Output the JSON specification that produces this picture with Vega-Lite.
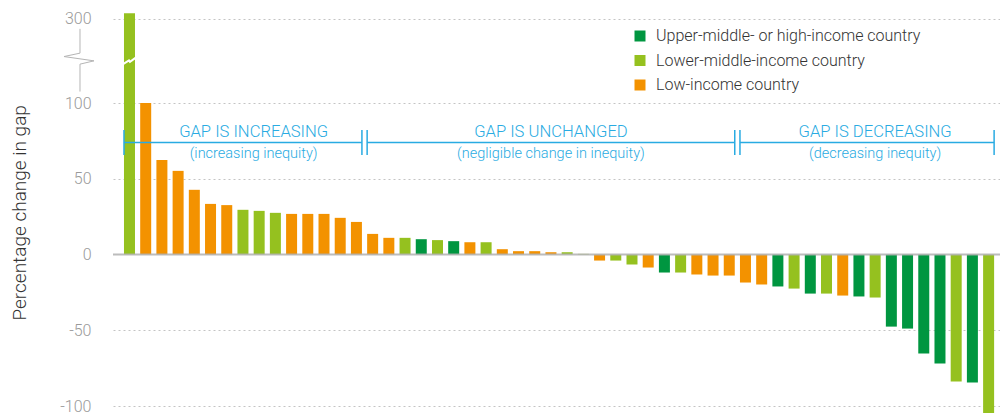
{
  "$schema": "https://vega.github.io/schema/vega-lite/v6.json",
  "width": 887,
  "height": 400,
  "autosize": "none",
  "padding": {"left": 113, "top": 13, "right": 0, "bottom": 0},
  "config": {"view": {"stroke": null}, "font": "Roboto"},
  "datasets": {
    "bars": [
      {"rank": 1, "value": 313, "income": "Lower-middle-income country"},
      {"rank": 2, "value": 100, "income": "Low-income country"},
      {"rank": 3, "value": 62.3, "income": "Low-income country"},
      {"rank": 4, "value": 55.2, "income": "Low-income country"},
      {"rank": 5, "value": 42.7, "income": "Low-income country"},
      {"rank": 6, "value": 33.4, "income": "Low-income country"},
      {"rank": 7, "value": 32.6, "income": "Low-income country"},
      {"rank": 8, "value": 29.5, "income": "Lower-middle-income country"},
      {"rank": 9, "value": 28.8, "income": "Lower-middle-income country"},
      {"rank": 10, "value": 27.5, "income": "Lower-middle-income country"},
      {"rank": 11, "value": 26.8, "income": "Low-income country"},
      {"rank": 12, "value": 26.8, "income": "Low-income country"},
      {"rank": 13, "value": 26.8, "income": "Low-income country"},
      {"rank": 14, "value": 24.2, "income": "Low-income country"},
      {"rank": 15, "value": 21.5, "income": "Low-income country"},
      {"rank": 16, "value": 13.6, "income": "Low-income country"},
      {"rank": 17, "value": 11.0, "income": "Low-income country"},
      {"rank": 18, "value": 11.0, "income": "Lower-middle-income country"},
      {"rank": 19, "value": 10.1, "income": "Upper-middle- or high-income country"},
      {"rank": 20, "value": 9.5, "income": "Lower-middle-income country"},
      {"rank": 21, "value": 8.8, "income": "Upper-middle- or high-income country"},
      {"rank": 22, "value": 8.1, "income": "Low-income country"},
      {"rank": 23, "value": 8.1, "income": "Lower-middle-income country"},
      {"rank": 24, "value": 3.5, "income": "Low-income country"},
      {"rank": 25, "value": 2.2, "income": "Low-income country"},
      {"rank": 26, "value": 2.2, "income": "Low-income country"},
      {"rank": 27, "value": 1.5, "income": "Low-income country"},
      {"rank": 28, "value": 1.5, "income": "Lower-middle-income country"},
      {"rank": 29, "value": 0.4, "income": "Lower-middle-income country"},
      {"rank": 30, "value": -4.0, "income": "Low-income country"},
      {"rank": 31, "value": -4.0, "income": "Lower-middle-income country"},
      {"rank": 32, "value": -6.6, "income": "Lower-middle-income country"},
      {"rank": 33, "value": -8.6, "income": "Low-income country"},
      {"rank": 34, "value": -11.9, "income": "Upper-middle- or high-income country"},
      {"rank": 35, "value": -11.9, "income": "Lower-middle-income country"},
      {"rank": 36, "value": -13.2, "income": "Low-income country"},
      {"rank": 37, "value": -13.9, "income": "Low-income country"},
      {"rank": 38, "value": -13.9, "income": "Low-income country"},
      {"rank": 39, "value": -18.5, "income": "Low-income country"},
      {"rank": 40, "value": -19.8, "income": "Low-income country"},
      {"rank": 41, "value": -21.1, "income": "Upper-middle- or high-income country"},
      {"rank": 42, "value": -22.5, "income": "Lower-middle-income country"},
      {"rank": 43, "value": -25.8, "income": "Upper-middle- or high-income country"},
      {"rank": 44, "value": -25.8, "income": "Lower-middle-income country"},
      {"rank": 45, "value": -27.1, "income": "Low-income country"},
      {"rank": 46, "value": -27.7, "income": "Upper-middle- or high-income country"},
      {"rank": 47, "value": -28.4, "income": "Lower-middle-income country"},
      {"rank": 48, "value": -47.6, "income": "Upper-middle- or high-income country"},
      {"rank": 49, "value": -48.9, "income": "Upper-middle- or high-income country"},
      {"rank": 50, "value": -65.4, "income": "Upper-middle- or high-income country"},
      {"rank": 51, "value": -72.0, "income": "Upper-middle- or high-income country"},
      {"rank": 52, "value": -83.9, "income": "Lower-middle-income country"},
      {"rank": 53, "value": -84.5, "income": "Upper-middle- or high-income country"},
      {"rank": 54, "value": -105, "income": "Lower-middle-income country"}
    ],
    "zero": [{"value": 0}],
    "breaks": [{"rank": 1, "value": 200}],
    "brackets": [
      {"from": 1, "to": 15, "title": "GAP IS INCREASING", "note": "(increasing inequity)", "at": 9},
      {"from": 16, "to": 38, "title": "GAP IS UNCHANGED", "note": "(negligible change in inequity)", "at": 27},
      {"from": 39, "to": 54, "title": "GAP IS DECREASING", "note": "(decreasing inequity)", "at": 47}
    ]
  },
  "layer": [
    {
      "data": {"name": "bars"},
      "mark": {"type": "bar"},
      "encoding": {
        "x": {
          "field": "rank", "type": "ordinal",
          "scale": {
            "domain": [1,2,3,4,5,6,7,8,9,10,11,12,13,14,15,16,17,18,19,20,21,22,23,24,25,26,27,28,29,30,31,32,33,34,35,36,37,38,39,40,41,42,43,44,45,46,47,48,49,50,51,52,53,54],
            "paddingInner": 0.3214, "paddingOuter": 0.5205, "align": 0.651, "round": false
          },
          "axis": null
        },
        "y": {
          "field": "value", "type": "quantitative",
          "scale": {"domain": [-100, 100, 300], "range": [393, 90, 5.7], "nice": false, "zero": false},
          "axis": {
            "values": [-100, -50, 0, 50, 100, 300],
            "labelExpr": "'' + datum.value",
            "title": "Percentage change in gap",
            "ticks": false, "domain": false,
            "labelPadding": 22, "labelFontSize": 16, "labelColor": "#9a9a9a", "labelFontWeight": 300,
            "titleFontSize": 19, "titleColor": "#333333", "titleFontWeight": 300, "titlePadding": 30,
            "gridDash": [2, 3], "gridColor": "#c4c4c4",
            "gridOpacity": {"condition": {"test": "datum.value === 0", "value": 0}, "value": 1}
          }
        },
        "color": {
          "field": "income", "type": "nominal",
          "scale": {
            "domain": ["Upper-middle- or high-income country", "Lower-middle-income country", "Low-income country"],
            "range": ["#009640", "#95C11F", "#F39200"]
          },
          "legend": {
            "title": null, "orient": "none", "legendX": 519, "legendY": 15,
            "symbolType": "square", "symbolSize": 121, "symbolOpacity": 1, "symbolStrokeWidth": 0,
            "labelFontSize": 16, "labelColor": "#333333", "labelOffset": 8, "rowPadding": 8.5,
            "labelFontWeight": 300, "labelLimit": 500
          }
        }
      }
    },
    {
      "data": {"name": "zero"},
      "mark": {"type": "rule", "color": "#b0b0b0", "strokeWidth": 2, "opacity": 0.85},
      "encoding": {"y": {"field": "value", "type": "quantitative"}}
    },
    {
      "data": {"name": "breaks"},
      "mark": {"type": "point", "shape": "M-6,3L-0.5,-0.5L0.5,1L6,-3", "size": 4, "filled": false, "stroke": "white", "strokeWidth": 2, "opacity": 1},
      "encoding": {
        "x": {"field": "rank", "type": "ordinal"},
        "y": {"field": "value", "type": "quantitative"}
      }
    },
    {
      "data": {"name": "breaks"},
      "mark": {"type": "point", "shape": "M-49.5,-32L-49.5,-7.7L-65.5,-4.3L-35.5,0L-49.5,3.3L-49.5,30.7", "size": 4, "filled": false, "stroke": "#b5b5b5", "strokeWidth": 1, "opacity": 1},
      "encoding": {
        "x": {"field": "rank", "type": "ordinal"},
        "y": {"field": "value", "type": "quantitative"}
      }
    },
    {
      "data": {"name": "brackets"},
      "mark": {"type": "rule", "color": "#29ABE2", "strokeWidth": 1.5},
      "encoding": {
        "x": {"field": "from", "type": "ordinal", "bandPosition": 0},
        "x2": {"field": "to", "bandPosition": 1},
        "y": {"datum": 74, "type": "quantitative"}
      }
    },
    {
      "data": {"name": "brackets"},
      "mark": {"type": "rule", "color": "#29ABE2", "strokeWidth": 1.5},
      "encoding": {
        "x": {"field": "from", "type": "ordinal", "bandPosition": 0},
        "y": {"datum": 65.6, "type": "quantitative"},
        "y2": {"datum": 82.1}
      }
    },
    {
      "data": {"name": "brackets"},
      "mark": {"type": "rule", "color": "#29ABE2", "strokeWidth": 1.5},
      "encoding": {
        "x": {"field": "to", "type": "ordinal", "bandPosition": 1},
        "y": {"datum": 65.6, "type": "quantitative"},
        "y2": {"datum": 82.1}
      }
    },
    {
      "data": {"name": "brackets"},
      "transform": [{"filter": "datum.from === 1"}],
      "mark": {"type": "text", "color": "#29ABE2", "fontSize": 16.6, "fontWeight": 300, "baseline": "middle", "align": "center"},
      "encoding": {
        "x": {"field": "at", "type": "ordinal", "bandPosition": 0},
        "y": {"datum": 81, "type": "quantitative"},
        "text": {"field": "title"}
      }
    },
    {
      "data": {"name": "brackets"},
      "transform": [{"filter": "datum.from === 1"}],
      "mark": {"type": "text", "color": "#29ABE2", "fontSize": 14.5, "fontWeight": 300, "baseline": "middle", "align": "center"},
      "encoding": {
        "x": {"field": "at", "type": "ordinal", "bandPosition": 0},
        "y": {"datum": 66.6, "type": "quantitative"},
        "text": {"field": "note"}
      }
    },
    {
      "data": {"name": "brackets"},
      "transform": [{"filter": "datum.from !== 1"}],
      "mark": {"type": "text", "color": "#29ABE2", "fontSize": 16.6, "fontWeight": 300, "baseline": "middle", "align": "center"},
      "encoding": {
        "x": {"field": "at", "type": "ordinal", "bandPosition": 0.5},
        "y": {"datum": 81, "type": "quantitative"},
        "text": {"field": "title"}
      }
    },
    {
      "data": {"name": "brackets"},
      "transform": [{"filter": "datum.from !== 1"}],
      "mark": {"type": "text", "color": "#29ABE2", "fontSize": 14.5, "fontWeight": 300, "baseline": "middle", "align": "center"},
      "encoding": {
        "x": {"field": "at", "type": "ordinal", "bandPosition": 0.5},
        "y": {"datum": 66.6, "type": "quantitative"},
        "text": {"field": "note"}
      }
    }
  ]
}
